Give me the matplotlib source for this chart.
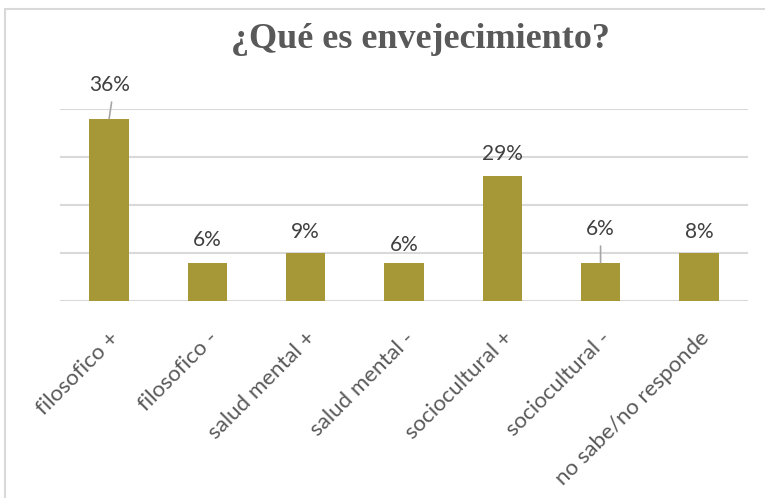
import matplotlib
matplotlib.use('Agg')
import matplotlib.pyplot as plt
from matplotlib.patches import Rectangle

# Datos (conteos por categoría y etiquetas en %)
categorias = ['filosofico +', 'filosofico -', 'salud mental +', 'salud mental -',
              'sociocultural +', 'sociocultural -', 'no sabe/no responde']
conteos = [19, 4, 5, 4, 13, 4, 5]
etiquetas = ['36%', '6%', '9%', '6%', '29%', '6%', '8%']

W, H = 765, 498
fig = plt.figure(figsize=(W / 100, H / 100), dpi=100)

# marco gris del gráfico
fig.patches.append(Rectangle((5 / W, -0.1), 1.2, 1 - 9 / H + 0.1, transform=fig.transFigure,
                             fill=False, edgecolor='#D9D9D9', linewidth=1.5))

ax = fig.add_axes([60 / W, 1 - 301 / H, 688 / W, 192 / H])
x = range(len(categorias))
ax.bar(x, conteos, width=0.4, color='#A69836', zorder=3)

ax.set_xlim(-0.5, len(categorias) - 0.5)
ax.set_ylim(0, 20)
ax.set_yticks([0, 5, 10, 15, 20])
ax.yaxis.grid(True, color='#D9D9D9', linewidth=1.5, zorder=0)
ax.tick_params(axis='y', left=False, labelleft=False)
ax.tick_params(axis='x', bottom=False, pad=0)
for s in ax.spines.values():
    s.set_visible(False)

ax.set_xticks(list(x))
ax.set_xticklabels(categorias, rotation=45, ha='right', va='top', rotation_mode='anchor',
                   fontsize=16, color='#595959', family='Lato')
for lbl in ax.get_xticklabels():
    lbl.set_y(-0.115)

# etiquetas de datos (desplazamiento en px sobre la barra)
desplaz = [34, 23, 21, 18, 22, 34, 21]
for i, (v, t, d) in enumerate(zip(conteos, etiquetas, desplaz)):
    ax.annotate(t, (i, v), xytext=(0, d * 0.72), textcoords='offset points',
                ha='center', va='center', fontsize=15, color='#404040', family='Lato',
                annotation_clip=False)

# líneas guía
guia = dict(arrowstyle='-', color='#A6A6A6', lw=1.2, shrinkA=0, shrinkB=0)
ax.annotate('', (0, conteos[0]), xytext=(0.025, conteos[0] + 16.5 / 9.6),
            arrowprops=guia, annotation_clip=False)
ax.annotate('', (5, conteos[5]), xytext=(5, conteos[5] + 16.5 / 9.6),
            arrowprops=guia, annotation_clip=False)

fig.text(420 / W, 1 - 39 / H, '¿Qué es envejecimiento?', ha='center', va='center',
         fontsize=26, fontweight='bold', color='#595959', family='Liberation Serif')

fig.savefig('out.png', dpi=100)
